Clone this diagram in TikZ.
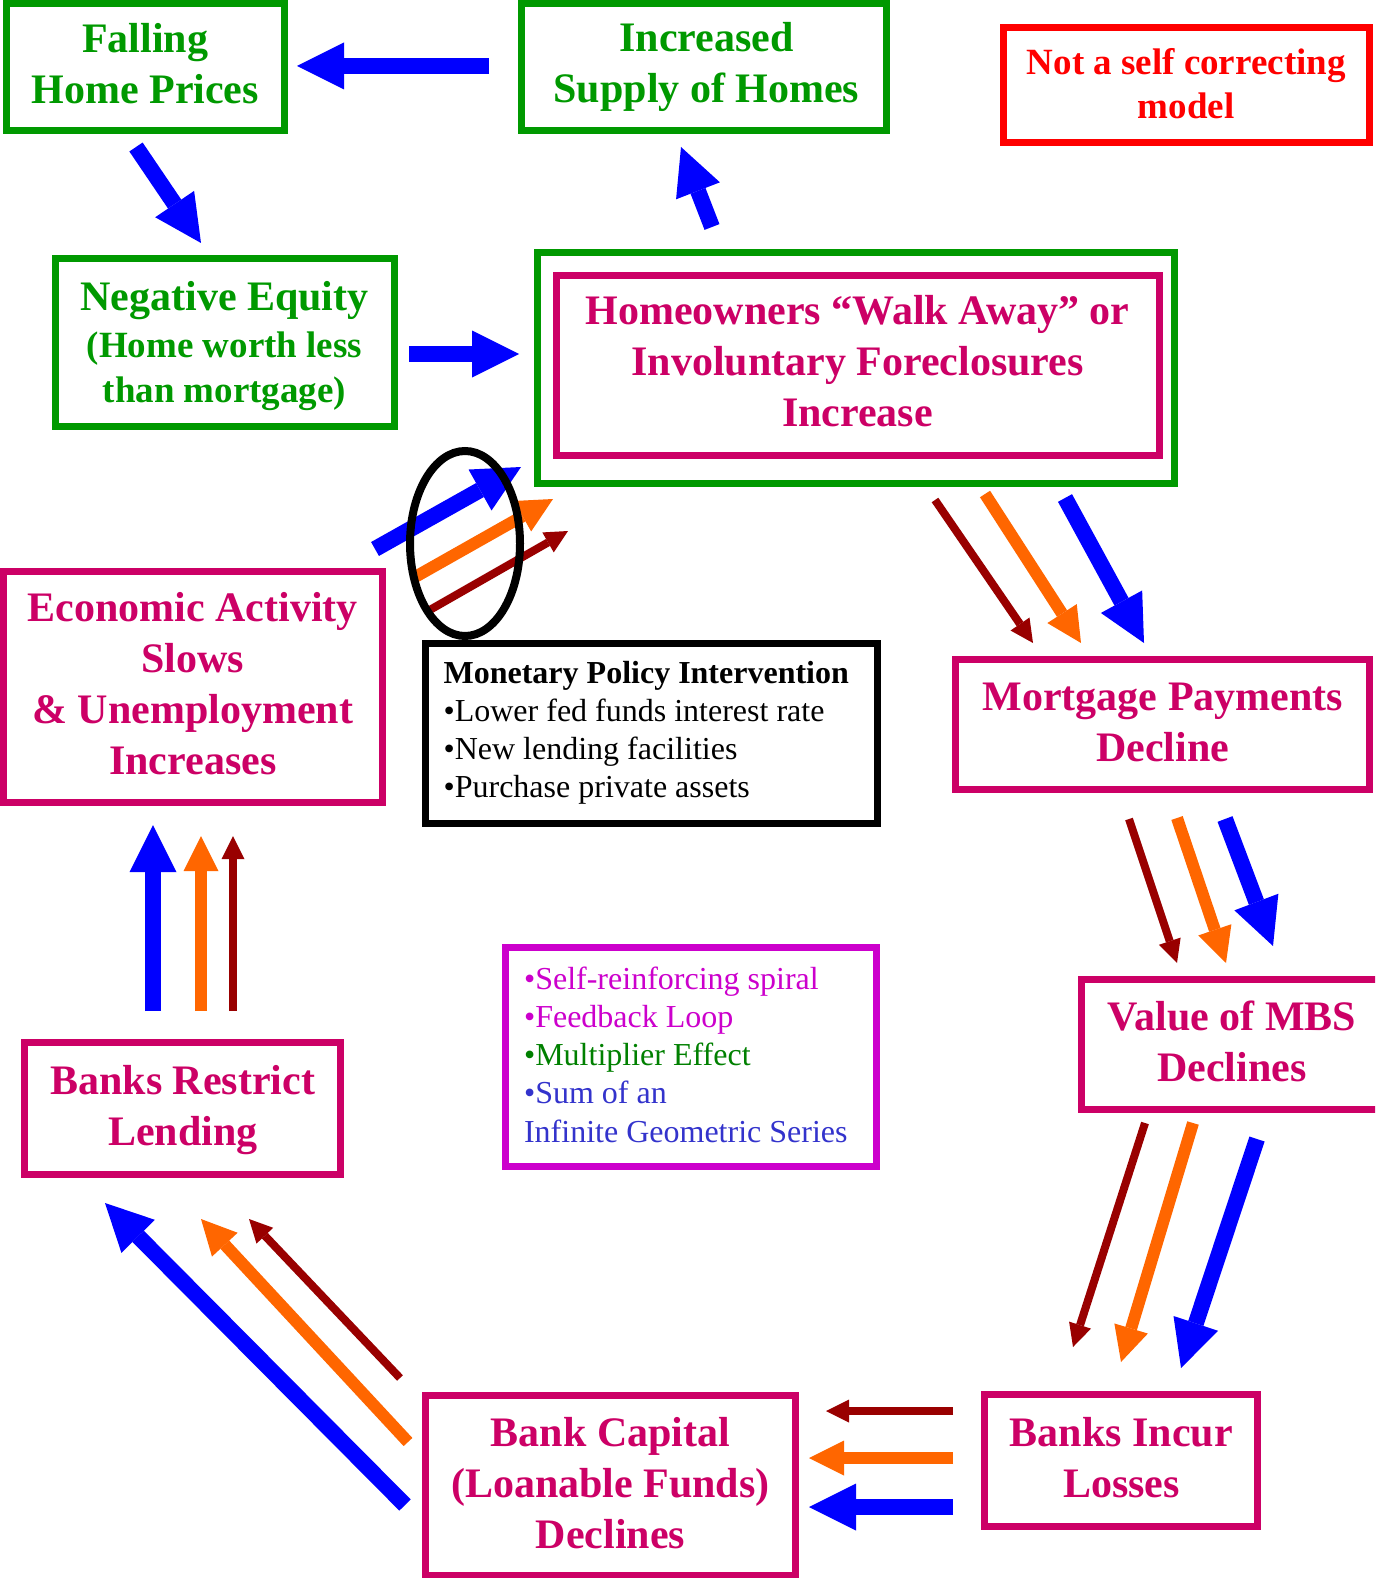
\documentclass[tikz,border=0pt]{standalone}
\usepackage{fontspec}
\setmainfont{Liberation Serif}
\usetikzlibrary{arrows.meta,shapes.geometric}
\definecolor{mygreen}{HTML}{009900}
\definecolor{mymag}{HTML}{CC0066}
\definecolor{mypurp}{HTML}{CC00CC}
\definecolor{myorange}{HTML}{FF6600}
\definecolor{mydkred}{HTML}{990000}
\definecolor{myblue}{HTML}{0000FF}
\definecolor{listgreen}{HTML}{008000}
\definecolor{listblue}{HTML}{3333CC}
\tikzset{
  box/.style={draw, line width=7pt, rectangle, inner sep=0pt},
  gbox/.style={box, draw=mygreen},
  mbox/.style={box, draw=mymag},
  txt/.style={inner sep=0pt, align=center, font=\fontsize{42}{51}\selectfont\bfseries},
  gtxt/.style={txt, text=mygreen},
  mtxt/.style={txt, text=mymag},
  barrow/.style={line width=16pt, color=myblue, -{Triangle[length=47pt,width=47pt,line width=0pt]}},
  oarrow/.style={line width=12pt, color=myorange, -{Triangle[length=35pt,width=35pt,line width=0pt]}},
  rarrow/.style={line width=8pt, color=mydkred, -{Triangle[length=23pt,width=23pt,line width=0pt]}},
}
\begin{document}
\begin{tikzpicture}[x=1pt,y=-1pt]
\fill[white] (0,0) rectangle (1375,1578);
\useasboundingbox (0,0) rectangle (1375,1578);
\clip (0,0) rectangle (1375,1578);

% boxes
\node[gbox, minimum width=278.5pt, minimum height=127.5pt] (fall) at (145.25,67.25) {};
\node[gbox, minimum width=365pt, minimum height=127.5pt] (supply) at (703.5,67.25) {};
\node[box, draw=red, minimum width=366.5pt, minimum height=115pt] (note) at (1186.25,85) {};
\node[gbox, minimum width=339pt, minimum height=167pt] (negeq) at (224.5,342.5) {};
\node[gbox, minimum width=637pt, minimum height=230pt] (mainout) at (855.5,368) {};
\node[mbox, minimum width=603pt, minimum height=180pt] (main) at (857.5,365.5) {};
\node[mbox, minimum width=378.5pt, minimum height=231pt] (econ) at (192.75,686.5) {};
\node[box, draw=black, minimum width=451.5pt, minimum height=180pt] (mon) at (651.25,733) {};
\node[mbox, minimum width=414.5pt, minimum height=130.5pt] (mort) at (1162.25,724.25) {};
\node[mbox, minimum width=302pt, minimum height=130.5pt] (mbs) at (1232,1044.25) {};
\node[box, draw=mypurp, minimum width=371pt, minimum height=219pt] (spiral) at (690.8,1056.5) {};
\node[mbox, minimum width=316.5pt, minimum height=131.5pt] (restrict) at (182.25,1108.25) {};
\node[mbox, minimum width=369.8pt, minimum height=179.5pt] (capital) at (610.4,1485.25) {};
\node[mbox, minimum width=273.7pt, minimum height=131.8pt] (losses) at (1120.85,1460.6) {};

% texts
\node[gtxt] (fallT) at (145.25,63.25) {Falling\\Home Prices};
\node[gtxt] (supplyT) at (706.5,67.25) {Increased\\Supply of Homes};
\node[txt, text=red, font=\fontsize{37}{44}\selectfont\bfseries] (noteT) at (1186.25,83.5) {Not a self correcting\\model};
\node[gtxt, font=\fontsize{37}{45}\selectfont\bfseries] (negeqT) at (224.5,346) {{\fontsize{42}{47}\selectfont Negative Equity}\\[2pt](Home worth less\\than mortgage)};
\node[mtxt] (mainT) at (857.5,361.5) {Homeowners “Walk Away” or\\Involuntary Foreclosures\\Increase};
\node[mtxt] (econT) at (192.75,684) {Economic Activity\\Slows\\\& Unemployment\\Increases};
\node[txt, align=left, font=\fontsize{32}{38}\selectfont] (monT) at (646.25,733) {\textbf{Monetary Policy Intervention}\\•Lower fed funds interest rate\\•New lending facilities\\•Purchase private assets};
\node[mtxt] (mortT) at (1162.75,722.25) {Mortgage Payments\\Decline};
\node[mtxt] (mbsT) at (1232,1041.25) {Value of MBS\\Declines};
\node[txt, align=left, font=\fontsize{32}{38.3}\selectfont] (spiralT) at (685.8,1054.5) {\textcolor{mypurp}{•Self-reinforcing spiral}\\\textcolor{mypurp}{•Feedback Loop}\\\textcolor{listgreen}{•Multiplier Effect}\\\textcolor{listblue}{•Sum of an}\\\textcolor{listblue}{Infinite Geometric Series}};
\node[mtxt] (restrictT) at (182.75,1110.25) {Banks Restrict\\Lending};
\node[mtxt] (capitalT) at (610.4,1482.75) {Bank Capital\\(Loanable Funds)\\Declines};
\node[mtxt] (lossesT) at (1121.35,1457.6) {Banks Incur\\Losses};

% arrow end points
\coordinate (bAs) at (489,66);   \coordinate (bAe) at (297,66);
\coordinate (bBs) at (136,147);  \coordinate (bBe) at (201,243);
\coordinate (bCs) at (409,354);  \coordinate (bCe) at (519,354);
\coordinate (bDs) at (712,227);  \coordinate (bDe) at (681,147);
\coordinate (bEs) at (375,549);  \coordinate (bEe) at (521,467);
\coordinate (oEs) at (415,577);  \coordinate (oEe) at (553,499);
\coordinate (rEs) at (428,611);  \coordinate (rEe) at (568,531);
\coordinate (bFs) at (1065,498); \coordinate (bFe) at (1144,643);
\coordinate (oFs) at (985,494);  \coordinate (oFe) at (1081,643);
\coordinate (rFs) at (935,500);  \coordinate (rFe) at (1033,643);
\coordinate (bGs) at (1225,819); \coordinate (bGe) at (1273,946);
\coordinate (oGs) at (1177,818); \coordinate (oGe) at (1226,963);
\coordinate (rGs) at (1129,819); \coordinate (rGe) at (1177,963);
\coordinate (bHs) at (1257,1139); \coordinate (bHe) at (1181,1368);
\coordinate (oHs) at (1193,1123); \coordinate (oHe) at (1121,1362);
\coordinate (rHs) at (1145,1123); \coordinate (rHe) at (1073,1347);
\coordinate (bIs) at (953,1507); \coordinate (bIe) at (809,1507);
\coordinate (oIs) at (953,1458); \coordinate (oIe) at (809,1458);
\coordinate (rIs) at (953,1411); \coordinate (rIe) at (826,1411);
\coordinate (bJs) at (405,1505); \coordinate (bJe) at (105,1203);
\coordinate (oJs) at (408,1442); \coordinate (oJe) at (201,1219);
\coordinate (rJs) at (400,1378); \coordinate (rJe) at (249,1219);
\coordinate (bKs) at (153,1011); \coordinate (bKe) at (153,825);
\coordinate (oKs) at (201,1011); \coordinate (oKe) at (201,836);
\coordinate (rKs) at (233,1011); \coordinate (rKe) at (233,836);

% arrows
\draw[barrow] (bAs) -- (bAe);
\draw[barrow] (bBs) -- (bBe);
\draw[barrow] (bCs) -- (bCe);
\draw[barrow] (bDs) -- (bDe);
\draw[barrow] (bEs) -- (bEe);
\draw[oarrow] (oEs) -- (oEe);
\draw[rarrow] (rEs) -- (rEe);
\draw[barrow] (bFs) -- (bFe);
\draw[oarrow] (oFs) -- (oFe);
\draw[rarrow] (rFs) -- (rFe);
\draw[barrow] (bGs) -- (bGe);
\draw[oarrow] (oGs) -- (oGe);
\draw[rarrow] (rGs) -- (rGe);
\draw[barrow] (bHs) -- (bHe);
\draw[oarrow] (oHs) -- (oHe);
\draw[rarrow] (rHs) -- (rHe);
\draw[barrow] (bIs) -- (bIe);
\draw[oarrow] (oIs) -- (oIe);
\draw[rarrow] (rIs) -- (rIe);
\draw[barrow] (bJs) -- (bJe);
\draw[oarrow] (oJs) -- (oJe);
\draw[rarrow] (rJs) -- (rJe);
\draw[barrow] (bKs) -- (bKe);
\draw[oarrow] (oKs) -- (oKe);
\draw[rarrow] (rKs) -- (rKe);

% ellipse
\node[draw=black, line width=8pt, ellipse, inner sep=0pt, minimum width=110pt, minimum height=185pt] (oval) at (465,543.5) {};
\end{tikzpicture}
\end{document}
